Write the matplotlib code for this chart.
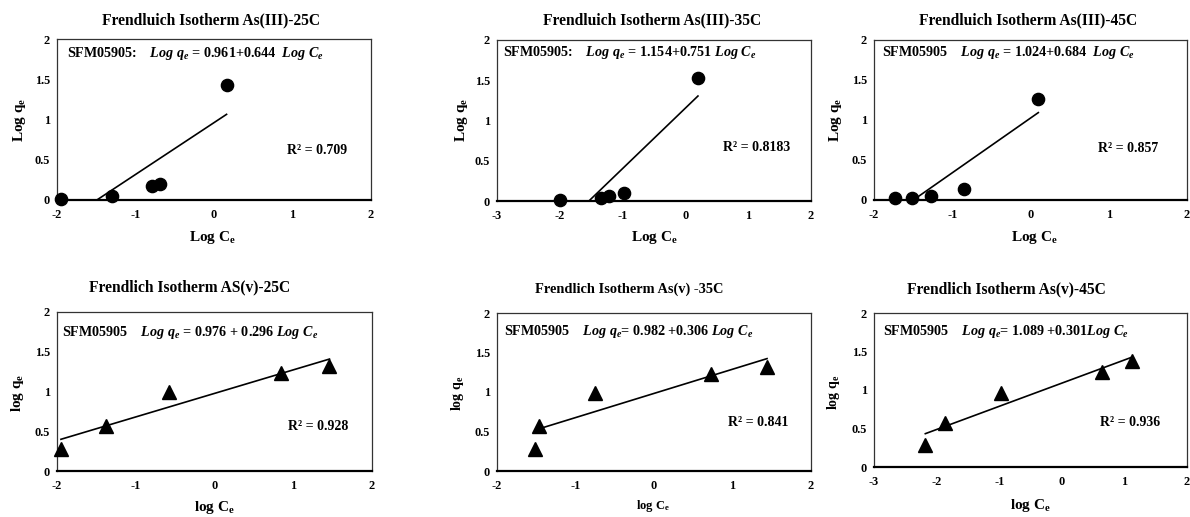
import numpy as np
import matplotlib
matplotlib.use("Agg")
import matplotlib.pyplot as plt

plt.rcParams['font.family'] = ['Liberation Serif', 'DejaVu Serif']
plt.rcParams['font.weight'] = 'bold'
plt.rcParams['mathtext.fontset'] = 'custom'
plt.rcParams['mathtext.rm'] = 'Liberation Serif:bold'
plt.rcParams['mathtext.it'] = 'Liberation Serif:italic:bold'
plt.rcParams['mathtext.bf'] = 'Liberation Serif:bold'

# ---------------- data ----------------
titles = ["Frendluich Isotherm As(III)-25C", "Frendluich Isotherm As(III)-35C",
          "Frendluich Isotherm As(III)-45C", "Frendlich Isotherm AS(v)-25C",
          "Frendlich Isotherm As(v) -35C", "Frendlich Isotherm As(v)-45C"]

x_as3_25 = [-1.95, -1.30, -0.79, -0.69, 0.16]
y_as3_25 = [0.01, 0.05, 0.17, 0.20, 1.43]
x_as3_35 = [-2.00, -1.34, -1.21, -0.97, 0.20]
y_as3_35 = [0.01, 0.04, 0.06, 0.10, 1.53]
x_as3_45 = [-1.73, -1.52, -1.27, -0.85, 0.10]
y_as3_45 = [0.02, 0.025, 0.05, 0.14, 1.26]
x_as5_25 = [-1.95, -1.38, -0.58, 0.84, 1.46]
y_as5_25 = [0.28, 0.57, 0.99, 1.23, 1.32]
x_as5_35 = [-1.51, -1.47, -0.75, 0.72, 1.44]
y_as5_35 = [0.28, 0.57, 0.99, 1.23, 1.32]
x_as5_45 = [-2.18, -1.86, -0.97, 0.64, 1.12]
y_as5_45 = [0.29, 0.57, 0.96, 1.24, 1.38]

# points used in the trend line fit (first As(v)-35C point excluded)
fit_mask = [[1, 1, 1, 1, 1], [1, 1, 1, 1, 1], [1, 1, 1, 1, 1],
            [1, 1, 1, 1, 1], [0, 1, 1, 1, 1], [1, 1, 1, 1, 1]]

intercepts = [0.961, 1.154, 1.024, 0.976, 0.982, 1.089]
slopes = [0.644, 0.751, 0.684, 0.296, 0.306, 0.301]
r2_labels = ["R² = 0.709", "R² = 0.8183", "R² = 0.857", "R² = 0.928", "R² = 0.841", "R² = 0.936"]
sample_labels = ["SFM05905:", "SFM05905:", "SFM05905", "SFM05905", "SFM05905", "SFM05905"]
eq_texts = [
    r"$\mathit{Log\ q_e}$ = 0.961+0.644  $\mathit{Log\ C_e}$",
    r"$\mathit{Log\ q_e}$ = 1.154+0.751 $\mathit{Log\ C_e}$",
    r"$\mathit{Log\ q_e}$ = 1.024+0.684  $\mathit{Log\ C_e}$",
    r"$\mathit{Log\ q_e}$ = 0.976 + 0.296 $\mathit{Log\ C_e}$",
    r"$\mathit{Log\ q_e}$= 0.982 +0.306 $\mathit{Log\ C_e}$",
    r"$\mathit{Log\ q_e}$= 1.089 +0.301$\mathit{Log\ C_e}$",
]
xlabels = [r"Log C$_\mathrm{e}$"] * 3 + [r"log C$_\mathrm{e}$"] * 3
ylabels = [r"Log q$_\mathrm{e}$"] * 3 + [r"log q$_\mathrm{e}$"] * 3
xlims = [(-2, 2), (-3, 2), (-2, 2), (-2, 2), (-2, 2), (-3, 2)]
yticks = [0, 0.5, 1, 1.5, 2]
ytick_labels = ["0", "0.5", "1", "1.5", "2"]

xs = [x_as3_25, x_as3_35, x_as3_45, x_as5_25, x_as5_35, x_as5_45]
ys = [y_as3_25, y_as3_35, y_as3_45, y_as5_25, y_as5_35, y_as5_45]
markers = ['o', 'o', 'o', '^', '^', '^']

# ---------------- layout (pixels) ----------------
W, H = 1190, 517
fig = plt.figure(figsize=(W / 100, H / 100), dpi=100)

def fx(p):
    return p / W

def fy(p):
    return 1 - p / H

# (left, top, right, bottom) in px
boxes = [(57, 39, 371, 200), (497, 40, 811, 201), (874, 40, 1187, 200),
         (57, 312, 372, 471), (497, 313, 811, 471), (874, 313, 1187, 467)]
title_pos = [(211, 20), (652, 20), (1028, 20), (190, 287), (629, 289), (1006, 289)]
title_fs = [11.2, 11.2, 11.2, 11.2, 10.4, 11.2]
xlabel_pos = [(212, 237), (654, 237), (1034, 237), (214, 507), (653, 506), (1030, 505)]
xlabel_fs = [11, 11, 11, 11, 9, 11]
ylabel_pos = [(20, 120), (461, 120), (836, 120), (18, 393), (457, 393), (833, 392)]
ylabel_fs = [11, 11, 11, 11, 10, 10]
eq_pos = [(0.032, 0.913), (0.02, 0.92), (0.025, 0.92), (0.016, 0.874), (0.022, 0.886), (0.029, 0.883)]
r2_pos = [(0.732, 0.31), (0.72, 0.33), (0.716, 0.325), (0.733, 0.277), (0.735, 0.304), (0.722, 0.29)]

for i in range(6):
    l, t, r, b = boxes[i]
    ax = fig.add_axes([fx(l), fy(b), (r - l) / W, (b - t) / H])
    x = np.array(xs[i])
    y = np.array(ys[i])
    m = np.array(fit_mask[i], dtype=bool)
    ms = 8.8 if markers[i] == 'o' else 9.5
    ax.plot(x, y, linestyle='none', marker=markers[i], color='black',
            markersize=ms, clip_on=False, zorder=3)
    lx = np.linspace(x[m].min(), x[m].max(), 200)
    ax.plot(lx, intercepts[i] + slopes[i] * lx, color='black', lw=1.2, zorder=2)
    ax.set_xlim(*xlims[i])
    ax.set_ylim(0, 2)
    ax.set_xticks(np.arange(xlims[i][0], xlims[i][1] + 1))
    ax.set_xticklabels([str(v) for v in range(xlims[i][0], xlims[i][1] + 1)])
    ax.set_yticks(yticks)
    ax.set_yticklabels(ytick_labels)
    ax.tick_params(length=0, labelsize=8.8)
    ax.tick_params(axis='x', pad=6.5)
    ax.tick_params(axis='y', pad=5)
    for lab in ax.get_xticklabels() + ax.get_yticklabels():
        lab.set_fontweight('bold')
    for s in ['top', 'right', 'left']:
        ax.spines[s].set_linewidth(0.9)
        ax.spines[s].set_color('#333333')
    ax.spines['bottom'].set_linewidth(1.6)
    ax.spines['bottom'].set_color('black')
    ax.text(eq_pos[i][0], eq_pos[i][1], sample_labels[i] + "    " + eq_texts[i],
            transform=ax.transAxes, fontsize=10.2, fontweight='bold', va='center', ha='left')
    ax.text(r2_pos[i][0], r2_pos[i][1], r2_labels[i], transform=ax.transAxes,
            fontsize=10, fontweight='bold', va='center', ha='left')
    fig.text(fx(title_pos[i][0]), fy(title_pos[i][1]), titles[i], fontsize=title_fs[i],
             fontweight='bold', ha='center', va='center')
    fig.text(fx(xlabel_pos[i][0]), fy(xlabel_pos[i][1]), xlabels[i], fontsize=xlabel_fs[i],
             fontweight='bold', ha='center', va='center')
    fig.text(fx(ylabel_pos[i][0]), fy(ylabel_pos[i][1]), ylabels[i], fontsize=ylabel_fs[i],
             fontweight='bold', ha='center', va='center', rotation=90)

fig.savefig("out.png", dpi=100)
